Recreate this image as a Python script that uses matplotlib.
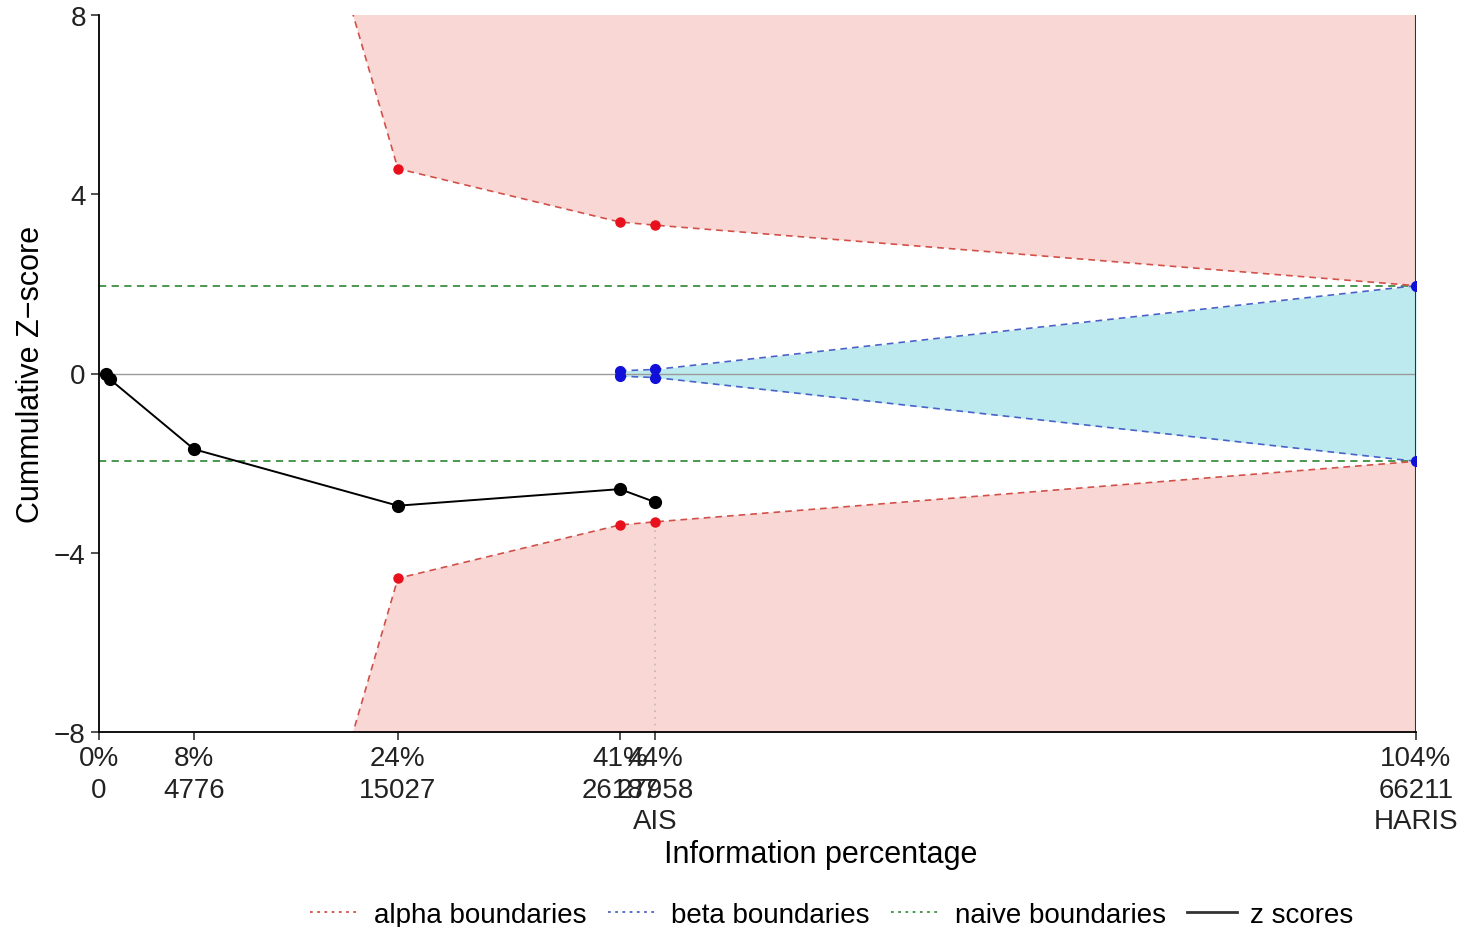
import matplotlib
matplotlib.use("Agg")
import matplotlib.pyplot as plt
from matplotlib.lines import Line2D

plt.rcParams['font.family'] = ['Liberation Sans', 'DejaVu Sans']

# sample size (cumulative) and z-scores
z_n = [350, 550, 4776, 15027, 26187, 27958]
z_vals = [-0.02, -0.13, -1.69, -2.95, -2.58, -2.87]

# alpha spending boundaries (first one lies outside the plot)
alpha_n = [4776, 15027, 26187, 27958, 66211]
alpha_up = [20.2, 4.57, 3.38, 3.31, 1.96]
alpha_pts_n = [15027, 26187, 27958]

# beta (futility) boundaries
beta_n = [26187, 27958, 66211]
beta_up = [0.06, 0.09, 1.96]

naive = 1.96
ris = 66211
ais = 27958

tick_n = [0, 4776, 15027, 26187, 27958, 66211]
tick_labels = ["0%\n0", "8%\n4776", "24%\n15027", "41%\n26187",
               "44%\n27958\nAIS", "104%\n66211\nHARIS"]

alpha_low = [-v for v in alpha_up]
beta_low = [-v for v in beta_up]

pink = '#f9d7d4'
cyan = '#bdeaee'
red_line = '#d2504a'
blue_line = '#4a62c8'
green_line = '#3c9040'

fig = plt.figure(figsize=(14.62, 9.28), dpi=100)
ax = fig.add_axes([99 / 1462, 1 - 733 / 928, (1416 - 99) / 1462, (733 - 16) / 928])

# rejection regions
ax.fill_between(alpha_n, alpha_up, 30, color=pink, lw=0)
ax.fill_between(alpha_n, alpha_low, -30, color=pink, lw=0)
# futility region
ax.fill_between(beta_n, beta_low, beta_up, color=cyan, lw=0)

ax.axhline(0, color='#9a9a9a', lw=1)
ax.axhline(naive, color=green_line, lw=1.3, ls=(0, (4, 3)))
ax.axhline(-naive, color=green_line, lw=1.3, ls=(0, (4, 3)))

ax.plot([ais, ais], [-8, alpha_low[3]], color='#c8b4b4', lw=1.2, ls=(0, (1, 3)))
ax.axvline(ris, color='#333333', lw=1.5)

ax.plot(alpha_n, alpha_up, color=red_line, lw=1.2, ls=(0, (4, 3)))
ax.plot(alpha_n, alpha_low, color=red_line, lw=1.2, ls=(0, (4, 3)))
pts = [alpha_n.index(n) for n in alpha_pts_n]
ax.plot([alpha_n[i] for i in pts], [alpha_up[i] for i in pts], 'o',
        color='#e8101c', ms=6.5, zorder=5)
ax.plot([alpha_n[i] for i in pts], [alpha_low[i] for i in pts], 'o',
        color='#e8101c', ms=6.5, zorder=5)

ax.plot(beta_n, beta_up, color=blue_line, lw=1.2, ls=(0, (4, 3)))
ax.plot(beta_n, beta_low, color=blue_line, lw=1.2, ls=(0, (4, 3)))
ax.plot(beta_n, beta_up, 'o', color='#1010d8', ms=7, zorder=5)
ax.plot(beta_n, beta_low, 'o', color='#1010d8', ms=7, zorder=5)

ax.plot(z_n, z_vals, '-o', color='black', lw=1.4, ms=8.5, zorder=6)

ax.set_xlim(0, ris)
ax.set_ylim(-8, 8)
ax.set_yticks([-8, -4, 0, 4, 8])
ax.set_yticklabels(['−8', '−4', '0', '4', '8'])
ax.set_xticks(tick_n)
ax.set_xticklabels(tick_labels, linespacing=1.28)
ax.tick_params(labelsize=20, colors='#333333', length=6, width=1.2)
for lab in ax.get_xticklabels() + ax.get_yticklabels():
    lab.set_color('#222222')
ax.spines['top'].set_visible(False)
ax.spines['right'].set_visible(False)
ax.spines['left'].set_linewidth(1.3)
ax.spines['bottom'].set_linewidth(1.3)

ax.set_ylabel('Cummulative Z−score', fontsize=22, labelpad=6)
fig.text(821 / 1462, 1 - 855 / 928, 'Information percentage', fontsize=22,
         ha='center', va='center')

handles = [
    Line2D([], [], color=red_line, lw=1.3, ls=(0, (1.5, 2.5))),
    Line2D([], [], color=blue_line, lw=1.3, ls=(0, (1.5, 2.5))),
    Line2D([], [], color=green_line, lw=1.3, ls=(0, (1.5, 2.5))),
    Line2D([], [], color='#333333', lw=2),
]
fig.legend(handles, ['alpha boundaries', 'beta boundaries', 'naive boundaries', 'z scores'],
           loc='center', bbox_to_anchor=(832 / 1462, 1 - 916 / 928), ncol=4,
           frameon=False, fontsize=20, handlelength=1.8, columnspacing=0.75,
           handletextpad=0.5)

fig.savefig('out.png', dpi=100)
